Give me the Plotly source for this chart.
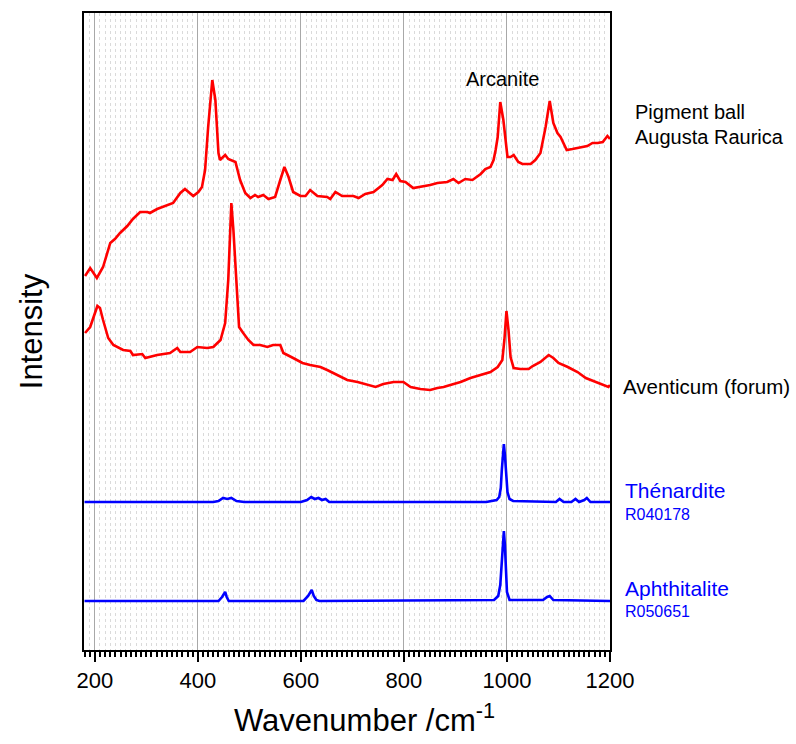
import plotly.graph_objects as go

# Pigment ball Augusta Raurica (red, top)
pigment_wn = [181,191,204,216,230,239,249,263,274,288,302,307,321,340,352,366,375,391,401,408,
              414,420,428,434,440,443,453,459,473,482,492,502,511,517,527,537,550,560,568,576,
              585,599,609,618,632,651,657,667,680,702,712,725,741,758,768,778,785,793,803,818,
              832,851,865,884,896,906,919,933,949,958,968,974,978,982,987,993,1001,1007,1013,1022,
              1030,1046,1055,1065,1075,1083,1090,1098,1104,1116,1127,1143,1156,1166,1176,1186,1195,1200]
pigment_int = [374,382,372,383,407,411,417,424,431,438,438,437,441,445,447,457,461,454,458,463,
               480,523,570,550,497,490,495,491,488,470,457,452,455,453,455,451,453,470,483,473,
               458,454,454,460,454,453,451,458,454,454,452,456,458,465,471,470,476,469,468,462,
               463,465,467,468,471,467,471,470,476,481,483,490,500,513,548,530,493,493,495,488,
               486,486,490,497,523,549,527,517,513,500,501,503,504,507,507,508,514,511]

# Aventicum (forum) (red, middle)
aventicum_wn = [181,191,205,210,216,226,236,255,269,274,292,298,321,346,360,366,385,399,418,430,
                444,453,459,465,469,477,480,488,498,508,521,535,546,560,566,585,603,618,638,651,
                663,673,690,710,729,745,760,780,799,813,832,851,865,877,890,910,929,949,968,982,
                991,995,999,1003,1007,1013,1026,1042,1050,1065,1075,1081,1090,1100,1118,1137,1153,1168,1186,1197,
                1200]
aventicum_int = [317,323,344,342,330,312,305,300,299,295,296,292,295,297,302,298,298,303,302,303,
                 310,327,370,447,420,343,323,317,310,305,305,303,305,305,297,292,287,285,283,280,
                 277,275,270,268,265,263,266,268,268,263,261,260,262,263,265,268,272,275,278,283,
                 290,310,339,320,293,282,281,281,284,288,293,295,292,287,283,278,272,269,266,263,
                 265]

# Thénardite R040178 (blue)
thenardite_wn = [180,430,440,449,457,465,475,490,600,612,620,627,634,641,648,655,960,980,985,988,
                 990,992,994,996,998,1001,1005,1012,1095,1102,1110,1125,1133,1140,1150,1155,1162,1200]
thenardite_int = [148,148,149,152,151,152,149,148,148,150,153,151,152,150,151,148,148,150,153,162,
                  180,198,206,195,175,158,151,149,148,151,148,148,151,148,150,152,148,148]

# Aphthitalite R050651 (blue)
aphthitalite_wn = [180,440,447,453,456,460,605,614,621,625,630,636,975,983,987,990,992,994,996,998,
                   1000,1005,1070,1078,1083,1090,1200]
aphthitalite_int = [49,49,53,58,53,49,49,54,60,54,50,49,50,54,65,90,110,119,105,78,
                    58,50,50,53,54,50,49]

x_ticks = [200, 400, 600, 800, 1000, 1200]

FONT = "Liberation Sans, Arial, sans-serif"
RED = "#ff0000"
BLUE = "#0000ff"
LW = 2.6

fig = go.Figure()
fig.add_trace(go.Scatter(x=pigment_wn, y=pigment_int, mode="lines",
                         line=dict(color=RED, width=LW), name="Pigment ball"))
fig.add_trace(go.Scatter(x=aventicum_wn, y=aventicum_int, mode="lines",
                         line=dict(color=RED, width=LW), name="Aventicum"))
fig.add_trace(go.Scatter(x=thenardite_wn, y=thenardite_int, mode="lines",
                         line=dict(color=BLUE, width=LW), name="Thénardite"))
fig.add_trace(go.Scatter(x=aphthitalite_wn, y=aphthitalite_int, mode="lines",
                         line=dict(color=BLUE, width=LW), name="Aphthitalite"))

fig.update_layout(
    width=796, height=744,
    margin=dict(l=84, r=186, t=13, b=94),
    paper_bgcolor="white", plot_bgcolor="white",
    showlegend=False,
    font=dict(family=FONT, color="black"),
    xaxis=dict(
        range=[179, 1200], tickvals=x_ticks, ticktext=[str(v) for v in x_ticks],
        showgrid=True, gridcolor="#a8a8a8", gridwidth=1,
        ticks="outside", ticklen=10, tickwidth=2, tickcolor="black",
        showline=True, linecolor="black", linewidth=2, mirror=True,
        tickfont=dict(size=22, family=FONT, color="black"),
        zeroline=False,
        minor=dict(dtick=10, tick0=0, showgrid=True, gridcolor="#dadada", griddash="dot",
                   gridwidth=1, ticks="outside", ticklen=5, tickwidth=1.5, tickcolor="black"),
    ),
    yaxis=dict(
        range=[0, 637], showticklabels=False, ticks="", showgrid=False, zeroline=False,
        showline=True, linecolor="black", linewidth=2, mirror=True,
        title=dict(text="Intensity", font=dict(size=31, family=FONT), standoff=30),
    ),
)

# label positions in paper coordinates (x > 1 places text to the right of the plot)
annots = [
    dict(text="Wavenumber /cm<sup>-1</sup>", x=0.534, y=-0.107, size=31, color="black", anchor="center"),
    dict(text="Arcanite", x=0.795, y=0.897, size=20, color="black", anchor="center"),
    dict(text="Pigment ball", x=1.044, y=0.845, size=20, color="black", anchor="left"),
    dict(text="Augusta Raurica", x=1.044, y=0.806, size=20, color="black", anchor="left"),
    dict(text="Aventicum (forum)", x=1.021, y=0.413, size=20.5, color="black", anchor="left"),
    dict(text="Thénardite", x=1.025, y=0.251, size=21, color=BLUE, anchor="left"),
    dict(text="R040178", x=1.025, y=0.213, size=16, color=BLUE, anchor="left"),
    dict(text="Aphthitalite", x=1.025, y=0.097, size=21, color=BLUE, anchor="left"),
    dict(text="R050651", x=1.025, y=0.061, size=16, color=BLUE, anchor="left"),
]
for a in annots:
    fig.add_annotation(text=a["text"], x=a["x"], y=a["y"], xref="paper", yref="paper",
                       xanchor=a["anchor"], yanchor="middle", showarrow=False,
                       font=dict(size=a["size"], color=a["color"], family=FONT))

fig.write_html("out.html")
